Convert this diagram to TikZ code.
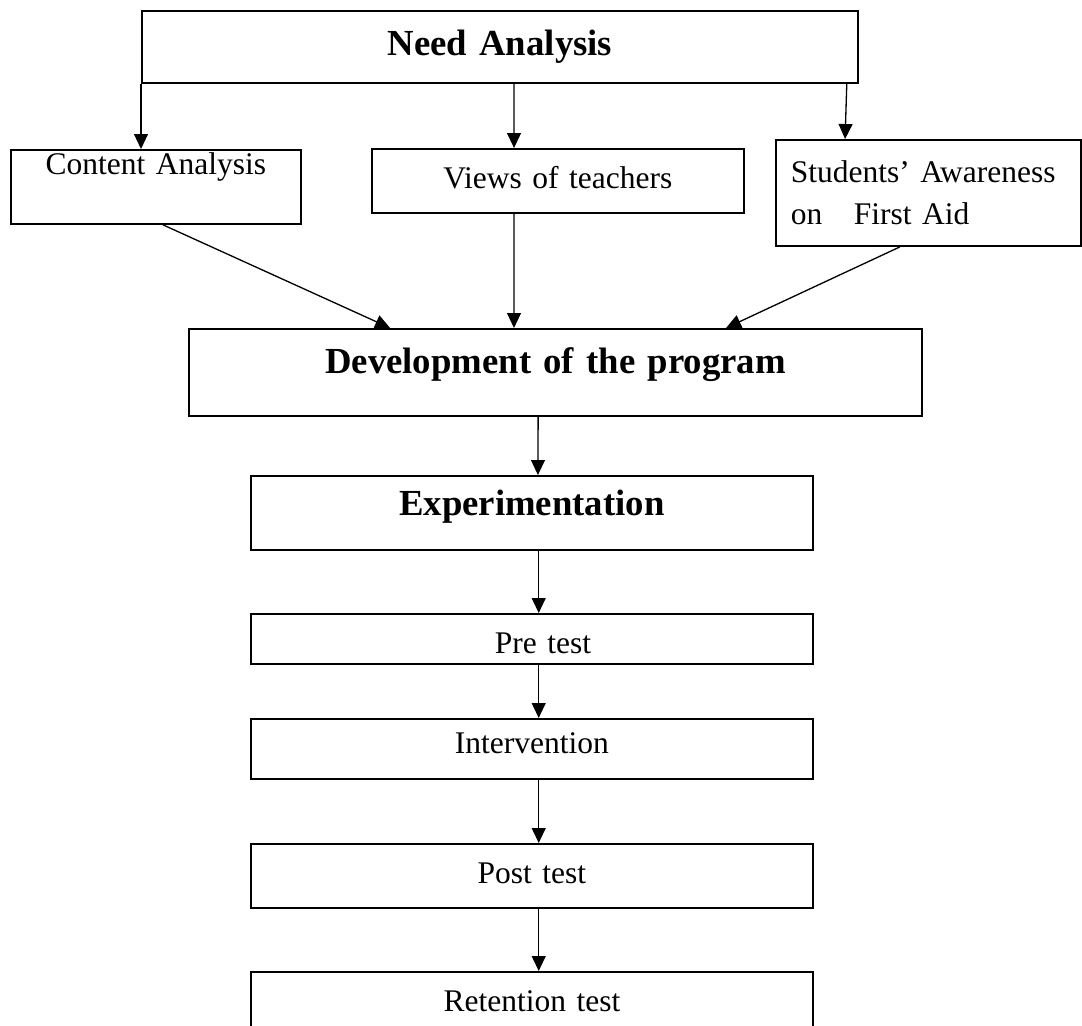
\documentclass[tikz,border=0pt]{standalone}
\usepackage{fontspec}
\setmainfont{Liberation Serif}
\usetikzlibrary{arrows.meta}

\begin{document}
\begin{tikzpicture}[x=0.381pt, y=-0.381pt,
    box/.style={draw, line width=0.7pt, anchor=north west, inner xsep=0pt, inner ysep=0pt,
      align=center, font=\fontsize{12pt}{16pt}\selectfont},
    bigbox/.style={box, font=\fontsize{14pt}{17pt}\selectfont\bfseries},
    arr/.style={line width=0.5pt, -{Triangle[length=5.7pt, width=5.3pt]}}]
  \useasboundingbox (0,0) rectangle (1082,1026);

  % need analysis and its three parts
  \node[bigbox, text width=272.8pt, text height=17.1pt, text depth=10.3pt] (need) at (141,10) {Need Analysis};
  \node[box, text width=110.5pt, text height=9.5pt, text depth=18.7pt] (content) at (10,149) {Content Analysis};
  \node[box, text width=141.7pt, text height=15.2pt, text depth=9.1pt] (views) at (371,148) {Views of teachers};
  \node[box, align=left, inner xsep=5.7pt, text width=104.8pt, minimum height=40.4pt] (aware) at (775,139)
    {Students' Awareness\\on~~~First Aid};

  % the program and its steps
  \node[bigbox, text width=279.3pt, text height=17.1pt, text depth=16pt] (dev) at (188,328) {Development of the program};
  \node[bigbox, text width=214.1pt, text height=15.2pt, text depth=13pt] (exp) at (250,475) {Experimentation};
  \node[box, text width=214.1pt, text height=15.2pt, text depth=3.8pt] (pre) at (250,613) {\hspace*{8.4pt}Pre test};
  \node[box, text width=214.1pt, text height=13.3pt, text depth=9.5pt] (int) at (250,718) {Intervention};
  \node[box, text width=214.1pt, text height=14.9pt, text depth=9.5pt] (post) at (250,843) {Post test};
  \node[box, text width=214.1pt, text height=14.9pt, text depth=19pt] (ret) at (250,971) {Retention test};

  \draw[arr] (need.south west) -- (need.south west |- content.north);
  \draw[arr] ([xshift=142.1pt]need.south west) -- ([xshift=54.5pt]views.north west);
  \draw[arr] ([xshift=-4.6pt]need.south east) -- ([xshift=26.7pt]aware.north west);

  \draw[arr] ([xshift=58.3pt]content.south west) -- ([xshift=77pt]dev.north west);
  \draw[arr] ([xshift=54.5pt]views.south west) -- ([xshift=124.2pt]dev.north west);
  \draw[arr] ([xshift=47.6pt]aware.south west) -- ([xshift=205pt]dev.north west);

  \draw[arr] ([xshift=133.4pt]dev.south west) -- ([xshift=109.7pt]exp.north west);
  \foreach \a/\b in {exp/pre, pre/int, int/post, post/ret}
    \draw[arr] ([xshift=110pt]\a.south west) -- ([xshift=110pt]\b.north west);
\end{tikzpicture}
\end{document}
